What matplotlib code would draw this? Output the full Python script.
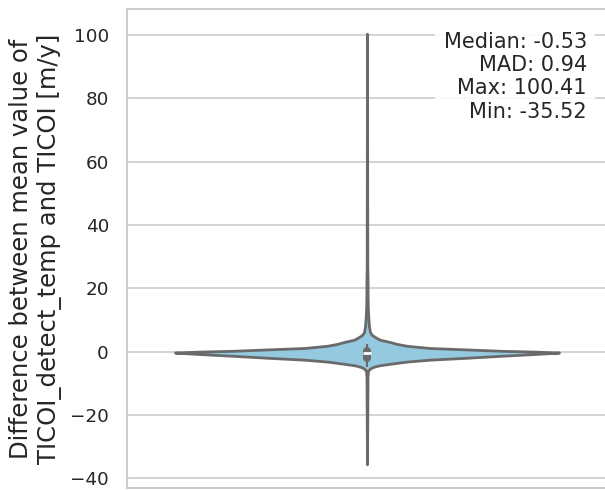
import matplotlib
matplotlib.use("Agg")
import matplotlib.pyplot as plt
import numpy as np

# Violin outline: value (m/y) and half-width (pixels, max 194)
violin_values = [-35.52, -20.0, -8.0, -6.0, -5.3, -4.8, -4.3, -3.8, -3.1, -2.5, -1.9,
                 -1.26, -0.7, -0.25, 0.05, 0.3, 0.75, 1.2, 1.9, 2.5, 3.1, 3.8, 4.5,
                 5.3, 6.2, 8.0, 11.0, 14.3, 18.0, 22.0, 27.0, 50.0, 100.41]
violin_halfwidth_px = [0, 0.3, 0.5, 1, 3, 6, 12, 23, 40, 63, 100,
                       136, 170, 194, 170, 136, 100, 63, 40, 30, 23, 13, 9,
                       5, 3, 2, 1.3, 0.8, 0.6, 0.6, 0.3, 0.2, 0]

# Inner box statistics
q1, q3 = -1.9, 0.3
whis_lo, whis_hi = -4.8, 2.6
median = -0.53
mad = 0.94
vmax = 100.41
vmin = -35.52

fill_color = "#94c9df"
line_color = "#6a6a6a"
grid_color = "#cccccc"
text_color = "#262626"

plt.rcParams['font.family'] = ['DejaVu Sans']

fig = plt.figure(figsize=(6.05, 4.9), dpi=100)
ax = fig.add_axes([127 / 605, 2 / 490, 480 / 605, 479 / 490])

rel = np.array(violin_halfwidth_px) / max(violin_halfwidth_px)
vals = np.array(violin_values)
ax.fill_betweenx(vals, -0.4 * rel, 0.4 * rel, facecolor=fill_color,
                 edgecolor=line_color, linewidth=2.0, zorder=2)

# inner box
ax.plot([0, 0], [whis_lo, whis_hi], color=line_color, lw=1.5, zorder=3,
        solid_capstyle='butt')
ax.plot([0, 0], [q1, q3], color=line_color, lw=5.8, zorder=3,
        solid_capstyle='round')
ax.plot([0], [median], marker='_', color='white', markersize=5.5,
        markeredgewidth=2.0, zorder=4)

ax.set_xlim(-0.5, 0.5)
ax.set_ylim(-43.0, 108.2)
ax.set_xticks([])
ax.set_yticks([-40, -20, 0, 20, 40, 60, 80, 100])
ax.grid(axis='y', color=grid_color, lw=1.2, zorder=0)
ax.set_axisbelow(True)
for s in ax.spines.values():
    s.set_color(grid_color)
    s.set_linewidth(1.5)
ax.tick_params(axis='y', length=0, pad=13, labelsize=13.2, labelcolor=text_color)

ax.set_ylabel("Difference between mean value of\nTICOI_detect_temp and TICOI [m/y]",
              fontsize=17.5, color=text_color, labelpad=6)

stats_text = (f"Median: {median:.2f}\nMAD: {mad:.2f}\n"
              f"Max: {vmax:.2f}\nMin: {vmin:.2f}")
ax.text(0.958, 0.952, stats_text, transform=ax.transAxes, ha='right', va='top',
        fontsize=15, color=text_color, multialignment='right',
        bbox=dict(boxstyle='square,pad=0.4', facecolor='white', edgecolor='none',
                  alpha=0.9), zorder=5)

fig.savefig("out.png", dpi=100)
